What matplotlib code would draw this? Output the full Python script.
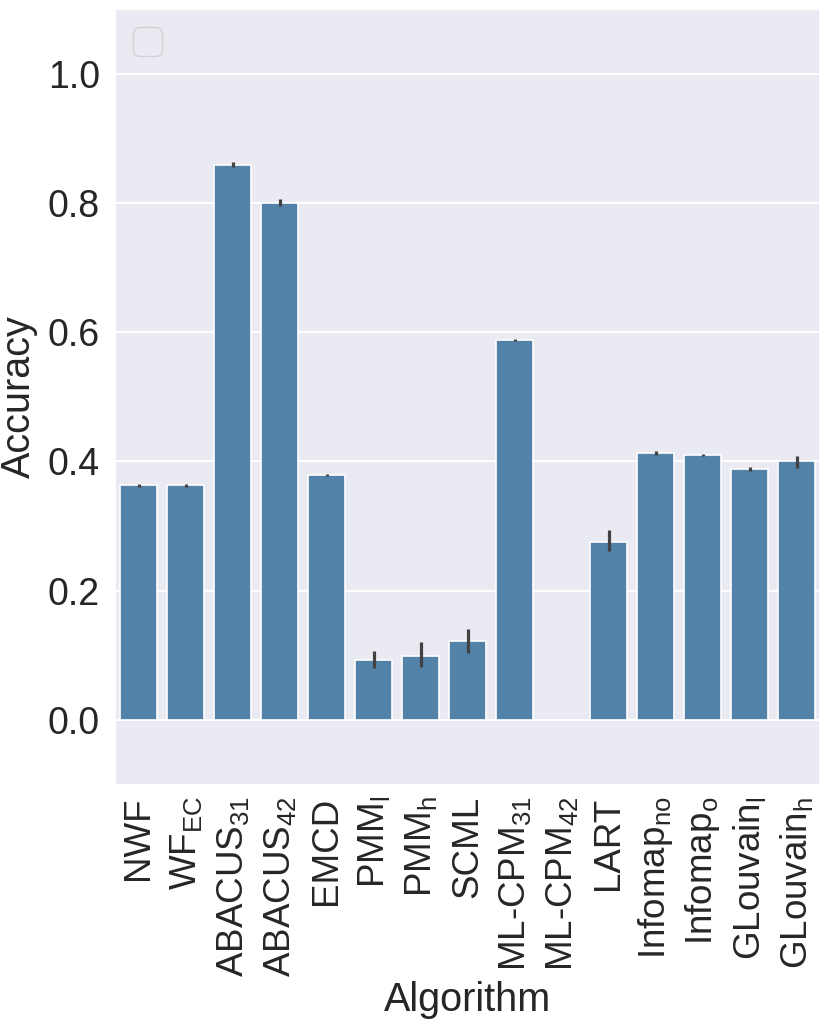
import numpy as np
import matplotlib
matplotlib.use("Agg")
import matplotlib.pyplot as plt
import seaborn as sns

# mean accuracy per algorithm, with the ends of the confidence interval
algoritmos = ["NWF", "WF$_{\\mathrm{EC}}$", "ABACUS$_{31}$", "ABACUS$_{42}$", "EMCD",
              "PMM$_{\\mathrm{l}}$", "PMM$_{\\mathrm{h}}$", "SCML", "ML-CPM$_{31}$",
              "ML-CPM$_{42}$", "LART", "Infomap$_{\\mathrm{no}}$", "Infomap$_{\\mathrm{o}}$",
              "GLouvain$_{\\mathrm{l}}$", "GLouvain$_{\\mathrm{h}}$"]
precision = [0.363, 0.363, 0.859, 0.800, 0.379, 0.093, 0.099, 0.122, 0.588,
             0.0, 0.276, 0.413, 0.410, 0.388, 0.400]
ic_bajo = [0.361, 0.361, 0.855, 0.795, 0.377, 0.080, 0.082, 0.104, 0.586,
           0.0, 0.261, 0.410, 0.408, 0.385, 0.390]
ic_alto = [0.365, 0.365, 0.863, 0.806, 0.381, 0.107, 0.120, 0.140, 0.590,
           0.0, 0.294, 0.416, 0.412, 0.391, 0.408]

sns.set_theme(style="darkgrid")
plt.rcParams["font.family"] = ["Liberation Sans", "DejaVu Sans"]
plt.rcParams["mathtext.fontset"] = "custom"
plt.rcParams["mathtext.rm"] = "Liberation Sans"
plt.rcParams["mathtext.it"] = "Liberation Sans:italic"
plt.rcParams["mathtext.bf"] = "Liberation Sans:bold"

fig = plt.figure(figsize=(8.3, 10.32), dpi=100)
ax = fig.add_axes([0.1386, 0.2398, 0.8494, 0.7514])

x = np.arange(len(algoritmos))
valores = np.array(precision)
yerr = np.vstack([valores - np.array(ic_bajo), np.array(ic_alto) - valores])
ax.bar(x, valores, width=0.8, color="#5382a9", edgecolor="white", linewidth=1.2, zorder=2)
ax.errorbar(x, valores, yerr=yerr, fmt="none", ecolor="#424242", elinewidth=2.3,
            capsize=0, zorder=3)

ax.set_xlim(-0.5, len(algoritmos) - 0.5)
ax.set_ylim(-0.1, 1.1)
ax.set_yticks([0.0, 0.2, 0.4, 0.6, 0.8, 1.0])
ax.set_xticks(x)
ax.set_xticklabels(algoritmos, rotation=90, fontsize=26.5)
ax.tick_params(axis="y", labelsize=27, pad=10.8, length=0)
ax.tick_params(axis="x", pad=8.5, length=0)
ax.grid(False, axis="x")
ax.grid(True, axis="y", color="white", linewidth=1.5)
ax.set_axisbelow(True)
ax.set_ylabel("Accuracy", fontsize=28.5, labelpad=7)
ax.set_xlabel("Algorithm", fontsize=28.5, labelpad=3)

leg = ax.legend(handles=[], loc="upper left", fontsize=26)
leg.get_frame().set_edgecolor("#cccccc")

fig.savefig("out.png", dpi=100)
